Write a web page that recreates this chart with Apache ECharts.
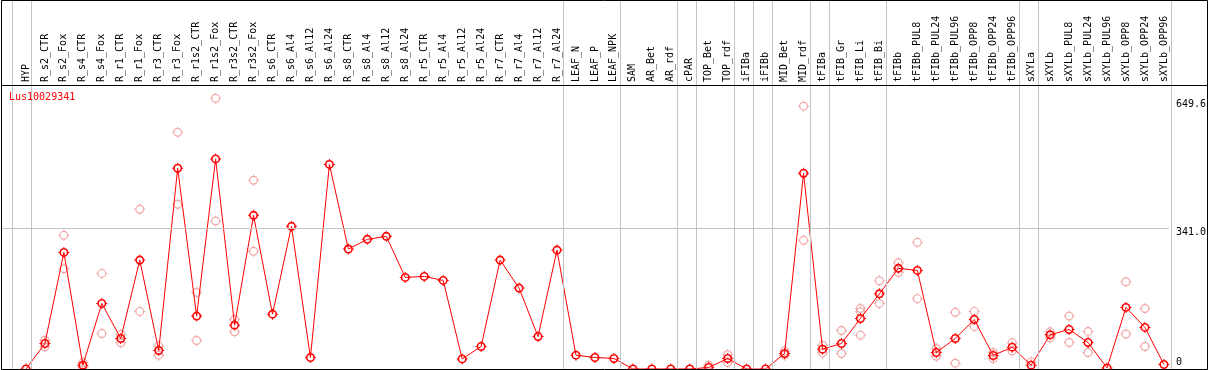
<!DOCTYPE html>
<html>
<head>
<meta charset="utf-8">
<title>Lus10029341</title>
<script src="https://cdn.jsdelivr.net/npm/echarts@6/dist/echarts.min.js"></script>
<style>
  html, body { margin: 0; padding: 0; background: #fff; }
  #chart { width: 1209px; height: 370px; }
</style>
</head>
<body>
<div id="chart"></div>
<script>
// sample categories, in plot order
const categories = [
  "HYP",
  "R_s2_CTR", "R_s2_Fox", "R_s4_CTR", "R_s4_Fox", "R_r1_CTR", "R_r1_Fox", "R_r3_CTR", "R_r3_Fox",
  "R_r1s2_CTR", "R_r1s2_Fox", "R_r3s2_CTR", "R_r3s2_Fox",
  "R_s6_CTR", "R_s6_Al4", "R_s6_Al12", "R_s6_Al24", "R_s8_CTR", "R_s8_Al4", "R_s8_Al12", "R_s8_Al24",
  "R_r5_CTR", "R_r5_Al4", "R_r5_Al12", "R_r5_Al24", "R_r7_CTR", "R_r7_Al4", "R_r7_Al12", "R_r7_Al24",
  "LEAF_N", "LEAF_P", "LEAF_NPK",
  "SAM", "AR_Bet", "AR_rdf",
  "cPAR",
  "TOP_Bet", "TOP_rdf",
  "iFIBa",
  "iFIBb",
  "MID_Bet", "MID_rdf",
  "tFIBa",
  "tFIB_Gr", "tFIB_Li", "tFIB_Bi",
  "tFIBb", "tFIBb_PUL8", "tFIBb_PUL24", "tFIBb_PUL96", "tFIBb_OPP8", "tFIBb_OPP24", "tFIBb_OPP96",
  "sXYLa",
  "sXYLb", "sXYLb_PUL8", "sXYLb_PUL24", "sXYLb_PUL96", "sXYLb_OPP8", "sXYLb_OPP24", "sXYLb_OPP96"
];

// mean expression (joined by the red line)
const meanValues = [
  0,
  61.8, 282.5, 9.2, 158.9, 74, 263.9, 44.9, 486.3,
  128.1, 508.9, 106.2, 372.3,
  132.9, 345.6, 27.9, 495.7, 290.6, 314.1, 321.4, 221.9,
  224.3, 214.6, 24.5, 54.6, 263.9, 196, 78.8, 288.1,
  33.5, 27.9, 25.5,
  0, 0, 0,
  0,
  3.6, 25.5,
  0,
  0,
  37.6, 474.2,
  48,
  61.8, 122.3, 182.2,
  243.8, 238.9, 40, 74, 120, 32.7, 52.9,
  9.2,
  82.7, 95.8, 64.3, 2.7, 149.2, 100.7, 10.9
];

// replicate values (pale circles), null = none visible
const repA = [
  null,
  69.8, 323.8, 15.8, 231.6, 83.7, 386.9, 56, 573.6,
  185.5, 656, 120, 457.2,
  null, null, null, null, null, null, null, null,
  null, null, null, null, null, null, null, null,
  null, null, null,
  null, null, null,
  null,
  9, 35.2,
  null,
  null,
  43.9, 636.7,
  57.7,
  93.4, 146.7, 213.9,
  257.3, 306.8, 49.7, 137.3, 139.5, 40, 63.3,
  17.2,
  90, 128.1, 91, null, 211.4, 146.7, null
];
const repB = [
  null,
  53.6, 242.8, 5, 86.1, 63.3, 139.5, 33.5, 399,
  69.1, 358.5, 90, 285,
  null, null, null, null, null, null, null, null,
  null, null, null, null, null, null, null, null,
  null, null, null,
  null, null, null,
  null,
  null, 15.8,
  null,
  null,
  33.5, 311.7,
  39,
  37.6, 82, 158.9,
  234.1, 170.4, 31, 14.1, 103.1, 25.5, 43.9,
  null,
  75.4, 64.3, 40, null, 84.9, 54.6, null
];
const repC = [
  null,
  null, null, null, null, null, null, null, null,
  null, null, null, null,
  null, null, null, null, null, null, null, null,
  null, null, null, null, null, null, null, null,
  null, null, null,
  null, null, null,
  null,
  null, null,
  null,
  null,
  null, null,
  null,
  null, 138.5, null,
  null, null, null, null, null, null, null,
  null,
  null, null, null, null, null, null, null
];

// last category of each group (-1 = before the first one)
const groupEnds = [-1, 0, 28, 31, 34, 35, 37, 38, 39, 41, 42, 45, 52, 53, 60];

const yTicks = [341.0, 649.6];
const yTickZero = [0];
const gridValue = 341.0;
const yMax = 688;

const MONO = "'DejaVu Sans Mono', 'Liberation Mono', monospace";
const RED = "#ff0000";
const PINK = "#ee8f8f";
const GREY = "#c4c4c4";

// ring with four small ticks, like the original markers
const darkMark = "path://M0,-4.5A4.5,4.5,0,1,1,0,4.5A4.5,4.5,0,1,1,0,-4.5Z" +
  "M0,-2.9A2.9,2.9,0,1,0,0,2.9A2.9,2.9,0,1,0,0,-2.9Z" +
  "M-0.5,-5.5h1v1.5h-1ZM-0.5,4h1v1.5h-1ZM-5.5,-0.5h1.5v1h-1.5ZM4,-0.5h1.5v1h-1.5Z";
const paleMark = "path://M0,-4.5A4.5,4.5,0,1,1,0,4.5A4.5,4.5,0,1,1,0,-4.5Z" +
  "M0,-3.3A3.3,3.3,0,1,0,0,3.3A3.3,3.3,0,1,0,0,-3.3Z" +
  "M-0.5,-5.5h1v1.5h-1ZM-0.5,4h1v1.5h-1ZM-5.5,-0.5h1.5v1h-1.5ZM4,-0.5h1.5v1h-1.5Z";

// x scale: index 0 sits 25px right of the frame, 19px per category
const step = 19;
const xMin = -25 / step;
const xMax = 60 + 5 / step;

const meanData = meanValues.map((v, i) => [i, v]);
const repData = [];
[repA, repB, repC].forEach((arr) => {
  arr.forEach((v, i) => { if (v !== null) repData.push([i, v]); });
});

const chart = echarts.init(document.getElementById("chart"), null, { renderer: "canvas" });

chart.setOption({
  animation: false,
  title: {
    text: "Lus10029341",
    left: 9,
    top: 92,
    padding: 0,
    textStyle: { color: RED, fontSize: 10, fontFamily: MONO, fontWeight: "normal" }
  },
  grid: [
    { left: 1, top: 0, width: 1170, height: 369 },
    { left: 1, top: 85, width: 1170, height: 284 }
  ],
  xAxis: [
    { gridIndex: 0, type: "value", min: xMin, max: xMax, show: false },
    {
      gridIndex: 1,
      type: "value",
      min: xMin,
      max: xMax,
      position: "top",
      axisLine: { show: false },
      axisTick: { show: false },
      splitLine: { show: false },
      axisLabel: {
        customValues: categories.map((c, i) => i),
        formatter: (v) => categories[Math.round(v)],
        rotate: 90,
        margin: 3,
        color: "#000",
        fontSize: 10,
        fontFamily: MONO
      }
    }
  ],
  yAxis: [
    { gridIndex: 0, type: "value", min: 0, max: 1, show: false },
    {
      gridIndex: 1,
      type: "value",
      position: "right",
      min: 0,
      max: yMax,
      axisLine: { show: false },
      axisTick: { show: false },
      splitLine: { show: false },
      axisLabel: {
        customValues: yTicks,
        formatter: (v) => v.toFixed(1),
        verticalAlign: "top",
        lineHeight: 8,
        margin: 7,
        color: "#000",
        fontSize: 10,
        fontFamily: MONO
      }
    },
    {
      gridIndex: 1,
      type: "value",
      position: "right",
      min: 0,
      max: yMax,
      axisLine: { show: false },
      axisTick: { show: false },
      splitLine: { show: false },
      axisLabel: {
        customValues: yTickZero,
        formatter: (v) => String(v),
        verticalAlign: "bottom",
        lineHeight: 14,
        margin: 7,
        color: "#000",
        fontSize: 10,
        fontFamily: MONO
      }
    }
  ],
  series: [
    {
      name: "groups",
      type: "line",
      xAxisIndex: 0,
      yAxisIndex: 0,
      data: [],
      silent: true,
      markLine: {
        silent: true,
        symbol: "none",
        label: { show: false },
        lineStyle: { color: GREY, type: "solid", width: 1 },
        emphasis: { disabled: true },
        data: groupEnds.map((e) => ({ xAxis: e + 5 / step }))
      }
    },
    {
      name: "replicates",
      type: "scatter",
      xAxisIndex: 1,
      yAxisIndex: 1,
      data: repData,
      symbol: paleMark,
      symbolSize: 11,
      itemStyle: { color: PINK },
      z: 2,
      markLine: {
        silent: true,
        symbol: "none",
        label: { show: false },
        lineStyle: { color: GREY, type: "solid", width: 1 },
        data: [{ yAxis: gridValue }]
      }
    },
    {
      name: "Lus10029341",
      type: "line",
      xAxisIndex: 1,
      yAxisIndex: 1,
      data: meanData,
      symbol: darkMark,
      symbolSize: 11,
      showAllSymbol: true,
      itemStyle: { color: RED },
      lineStyle: { color: RED, width: 1 },
      z: 3
    }
  ],
  graphic: [
    {
      type: "rect",
      silent: true,
      z: 100,
      shape: { x: 1.5, y: 0.5, width: 1206, height: 369 },
      style: { fill: null, stroke: "#000", lineWidth: 1 }
    },
    {
      type: "line",
      silent: true,
      z: 100,
      shape: { x1: 1, y1: 85.5, x2: 1207, y2: 85.5 },
      style: { stroke: "#000", lineWidth: 1 }
    }
  ]
});

window.addEventListener("resize", () => chart.resize());
</script>
</body>
</html>
